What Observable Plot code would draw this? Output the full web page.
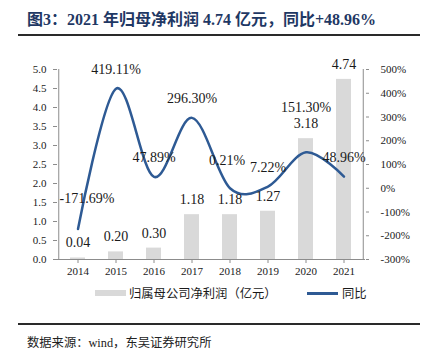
<!DOCTYPE html>
<html>
<head>
<meta charset="utf-8">
<script src="https://cdn.jsdelivr.net/npm/d3@7"></script>
<script src="https://cdn.jsdelivr.net/npm/@observablehq/plot@0.6"></script>
<style>
  html, body { margin: 0; padding: 0; background: #fff; }
  body { width: 425px; height: 351px; position: relative; overflow: hidden; }
  .abs { position: absolute; white-space: nowrap; }
</style>
</head>
<body>
<div class="abs" style="left:27px;top:12px;font:bold 16px/16px 'Liberation Serif','Noto Sans CJK SC',serif;color:#1f3864;">图3：2021 年归母净利润 4.74 亿元，同比+48.96%</div>
<div class="abs" style="left:18px;top:34px;width:402px;height:2px;background:#2a2a2a;"></div>
<div id="chart" class="abs" style="left:0;top:40px;"></div>
<div id="legend"></div>
<div class="abs" style="left:18px;top:323px;width:402px;height:2px;background:#2a2a2a;"></div>
<div class="abs" style="left:27px;top:336px;font:12.3px/14px 'Liberation Serif','Noto Sans CJK SC',serif;color:#222;">数据来源：wind，东吴证券研究所</div>
<script>
// ---- data ----
const years = ["2014", "2015", "2016", "2017", "2018", "2019", "2020", "2021"];
const profit = [0.04, 0.20, 0.30, 1.18, 1.18, 1.27, 3.18, 4.74];   // 亿元
const yoy = [-171.69, 419.11, 47.89, 296.30, 0.21, 7.22, 151.30, 48.96]; // %
const leftTicks = [0, 0.5, 1.0, 1.5, 2.0, 2.5, 3.0, 3.5, 4.0, 4.5, 5.0];
const rightTicks = [-300, -200, -100, 0, 100, 200, 300, 400, 500];
const seriesNames = ["归属母公司净利润（亿元）", "同比"];

// map right-axis percent onto the left-axis domain
const pctToLeft = d3.scaleLinear([-300, 500], [0, 5]);

const rows = years.map((year, i) => ({
  year, profit: profit[i], yoy: yoy[i], yoyL: pctToLeft(yoy[i])
}));

const barColor = "#d9d9d9";
const lineColor = "#2e5a94";
const axisColor = "#8c8c8c";
const numFont = "'Liberation Serif','Times New Roman',serif";

// label offsets (style only)
const lineLabelDy = {"2014": -31, "2018": -28, "2020": -45};
const lineLabelDx = {"2014": 9, "2018": -3};
const halfStep = 19.25;

const lineLabelMarks = [];
const groups = {};
rows.forEach(r => {
  const key = (lineLabelDy[r.year] ?? -19) + "|" + (lineLabelDx[r.year] ?? 0);
  (groups[key] ||= []).push(r);
});
for (const [key, data] of Object.entries(groups)) {
  const [dy, dx] = key.split("|").map(Number);
  lineLabelMarks.push(Plot.text(data, {
    x: "year", y: "yoyL", text: d => d.yoy.toFixed(2) + "%",
    dy, dx, fontSize: 14, fill: "#1a1a1a"
  }));
}

const chart = Plot.plot({
  width: 425,
  height: 240,
  marginTop: 29,
  marginBottom: 21,
  marginLeft: 57,
  marginRight: 60,
  style: { fontFamily: numFont, fontSize: "11px", color: "#1a1a1a", background: "transparent" },
  x: { type: "band", domain: years, paddingInner: 0.6, paddingOuter: 0.3 },
  y: { domain: [0, 5] },
  marks: [
    Plot.barY(rows, { x: "year", y: "profit", fill: barColor }),
    // axis lines
    Plot.ruleY([0], { stroke: axisColor }),
    Plot.ruleX(rows.slice(0, 1), { x: "year", dx: -halfStep, y1: 0, y2: 5, stroke: axisColor }),
    Plot.ruleX(rows.slice(-1), { x: "year", dx: halfStep, y1: 0, y2: 5, stroke: axisColor }),
    Plot.axisX({ tickSize: 4, tickPadding: 4, stroke: axisColor, fill: "#1a1a1a", label: null, fontSize: 11 }),
    Plot.axisY(leftTicks, { anchor: "left", tickSize: 4, tickPadding: 7, stroke: axisColor, fill: "#1a1a1a",
      tickFormat: d => d.toFixed(1), label: null, fontSize: 11 }),
    Plot.axisY(rightTicks.map(d => pctToLeft(d)), { anchor: "right", tickSize: 3, tickPadding: 12, stroke: axisColor, fill: "#1a1a1a",
      tickFormat: d => Math.round(pctToLeft.invert(d)) + "%", label: null, fontSize: 11 }),
    Plot.line(rows, { x: "year", y: "yoyL", stroke: lineColor, strokeWidth: 2.5, curve: "cardinal" }),
    Plot.text(rows, { x: "year", y: "profit", text: d => d.profit.toFixed(2), dy: -15, fontSize: 14, fill: "#1a1a1a" }),
    ...lineLabelMarks
  ]
});
document.getElementById("chart").appendChild(chart);

// legend
const legend = document.getElementById("legend");
legend.innerHTML = `
  <div class="abs" style="left:95px;top:290px;width:31px;height:6px;background:${barColor};"></div>
  <div class="abs" style="left:129px;top:286px;font:12.3px/14px 'Noto Sans CJK SC',sans-serif;color:#1a1a1a;">${seriesNames[0]}</div>
  <div class="abs" style="left:307px;top:292px;width:31px;height:2.5px;background:${lineColor};"></div>
  <div class="abs" style="left:342px;top:286px;font:12.3px/14px 'Noto Sans CJK SC',sans-serif;color:#1a1a1a;">${seriesNames[1]}</div>
`;
</script>
</body>
</html>
